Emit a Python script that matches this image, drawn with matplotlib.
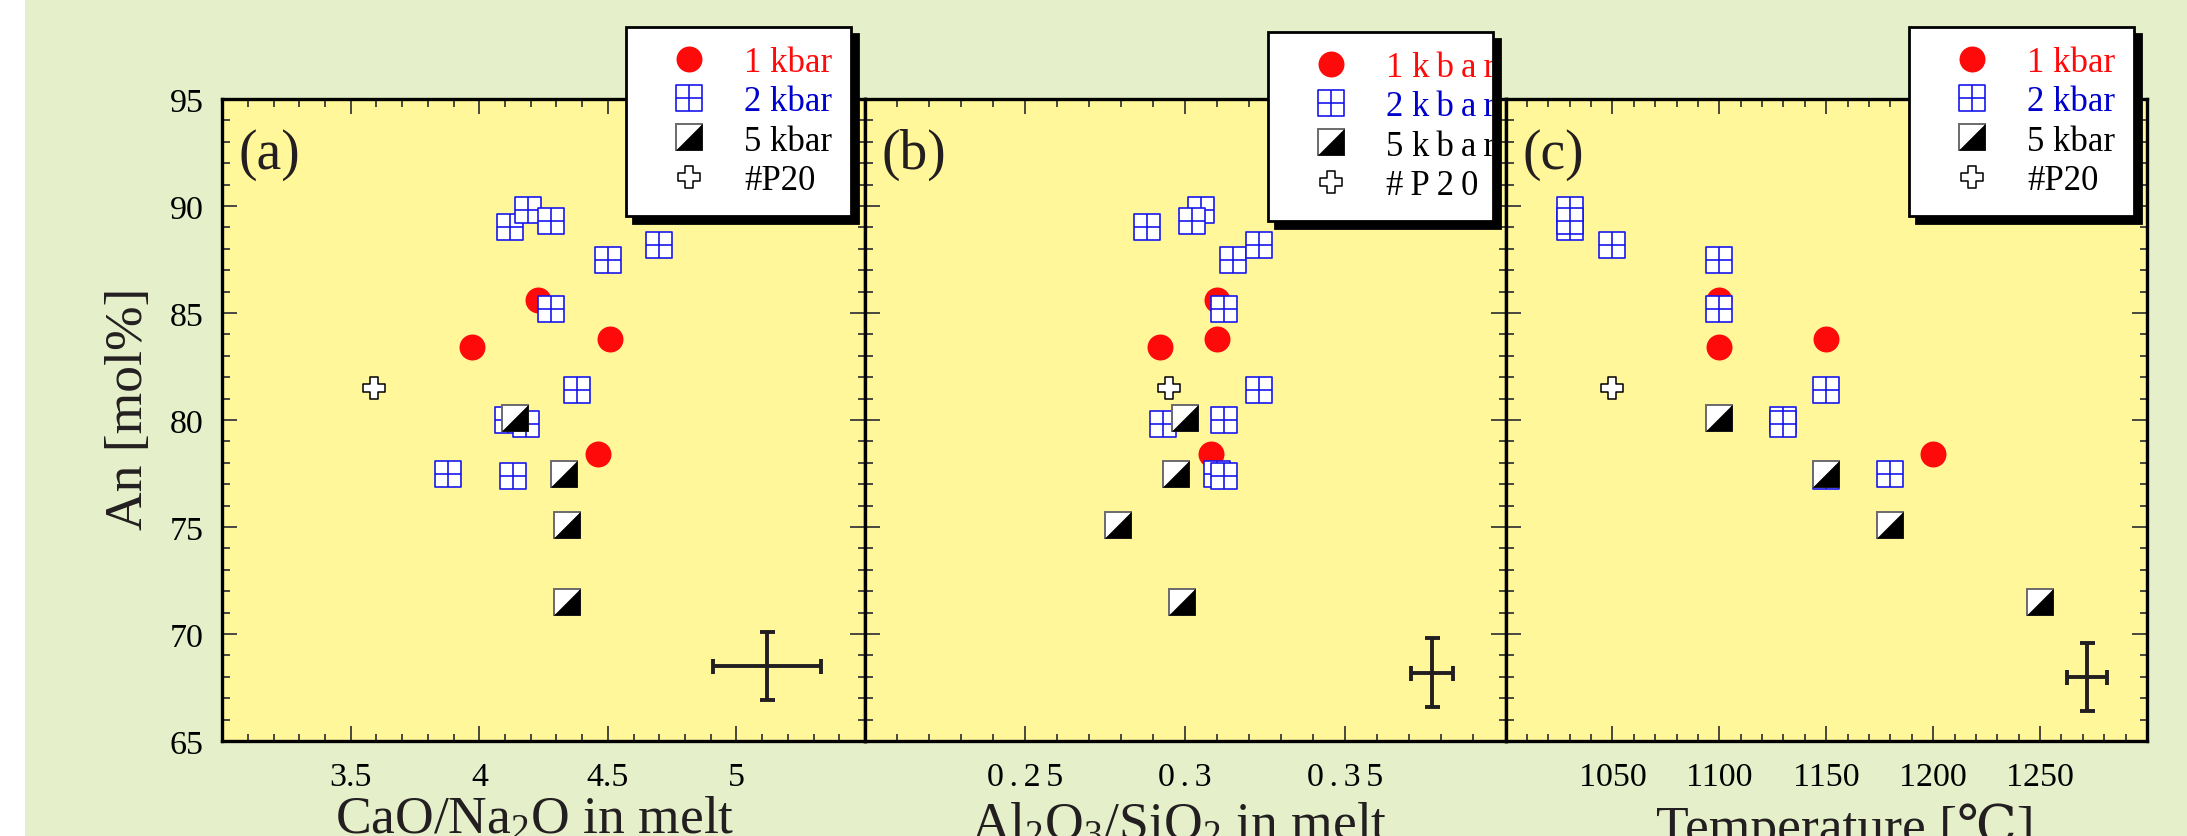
import matplotlib
matplotlib.use("Agg")
import matplotlib.pyplot as plt
from matplotlib.path import Path
from matplotlib.lines import Line2D
from matplotlib.patches import Rectangle
from matplotlib.transforms import Bbox
from matplotlib.ticker import MultipleLocator

plt.rcParams["font.family"] = ["Liberation Serif", "DejaVu Serif", "Noto Sans CJK JP"]
plt.rcParams["mathtext.fontset"] = "custom"
plt.rcParams["mathtext.rm"] = "Liberation Serif"
plt.rcParams["mathtext.it"] = "Liberation Serif:italic"
plt.rcParams["mathtext.default"] = "regular"

# ---- data -------------------------------------------------------------
# Anorthite content of plagioclase [mol%]
an_1kbar = [85.6, 83.4, 83.8, 78.4]
an_2kbar = [89.0, 89.8, 89.3, 87.5, 88.2, 85.2, 81.4, 80.0, 79.8, 77.5, 77.4]
an_5kbar = [80.1, 77.5, 75.1, 71.5]
an_p20 = [81.5]

# CaO/Na2O in melt
cana_1kbar = [4.23, 3.97, 4.51, 4.46]
cana_2kbar = [4.12, 4.19, 4.28, 4.50, 4.70, 4.28, 4.38, 4.11, 4.18, 3.88, 4.13]
cana_5kbar = [4.14, 4.33, 4.34, 4.34]
cana_p20 = [3.59]

# Al2O3/SiO2 in melt
alsi_1kbar = [0.310, 0.292, 0.310, 0.308]
alsi_2kbar = [0.288, 0.305, 0.302, 0.315, 0.323, 0.312, 0.323, 0.312, 0.293, 0.310, 0.312]
alsi_5kbar = [0.300, 0.297, 0.279, 0.299]
alsi_p20 = [0.295]

# Temperature [C]
temp_1kbar = [1100, 1100, 1150, 1200]
temp_2kbar = [1030, 1030, 1030, 1100, 1050, 1100, 1150, 1130, 1130, 1180, 1150]
temp_5kbar = [1100, 1150, 1180, 1250]
temp_p20 = [1050]

# typical analytical uncertainty (one cross per panel)
err_x = [5.12, 0.377, 1272]
err_y = [68.5, 68.2, 68.0]
err_dx = [0.21, 0.0065, 9.5]
err_dy = [1.6, 1.6, 1.6]

panel_tags = ["(a)", "(b)", "(c)"]
x_labels = ["CaO/Na$_2$O in melt", "Al$_2$O$_3$/SiO$_2$ in melt", "Temperature [\u2103]"]
x_limits = [(3.0, 5.5), (0.2, 0.4), (1000, 1300)]
x_ticks = [[3.5, 4.0, 4.5, 5.0], [0.25, 0.30, 0.35], [1050, 1100, 1150, 1200, 1250]]
x_ticklabels = [["3.5", "4", "4.5", "5"],
                ["0\u2006.\u20062\u20065", "0\u2006.\u20063", "0\u2006.\u20063\u20065"],
                ["1050", "1100", "1150", "1200", "1250"]]
x_minor = [0.1, 0.01, 10]
y_ticks = [65, 70, 75, 80, 85, 90, 95]
y_label = "An [mol%]"
legend_labels = ["1 kbar", "2 kbar", "5 kbar", "#P20"]
legend_labels_wide = ["1 k\u2009b\u2009a\u2009r", "2 k\u2009b\u2009a\u2009r",
                      "5 k\u2009b\u2009a\u2009r", "#\u2009P\u20092\u20090"]

# ---- style ------------------------------------------------------------
W, H = 2187, 837
FIG_BG = "#E5F0CA"
AX_BG = "#FFF799"
RED = "#FF0A0A"
BLUE = "#1818EE"
BLUE_TXT = "#0000CC"
EDGE_GRAY = "#6A6A6A"
TICK = "#3A3A3A"
INK = "#231F20"

grid_square = Path(
    [(-1, -1), (1, -1), (1, 1), (-1, 1), (-1, -1), (0, -1), (0, 1), (-1, 0), (1, 0)],
    [Path.MOVETO, Path.LINETO, Path.LINETO, Path.LINETO, Path.CLOSEPOLY,
     Path.MOVETO, Path.LINETO, Path.MOVETO, Path.LINETO])
lower_right = Path([(-1, -1), (1, -1), (1, 1), (-1, -1)],
                   [Path.MOVETO, Path.LINETO, Path.LINETO, Path.CLOSEPOLY])
w = 0.36
cross_outline = Path([(-w, 1), (w, 1), (w, w), (1, w), (1, -w), (w, -w), (w, -1),
                      (-w, -1), (-w, -w), (-1, -w), (-1, w), (-w, w), (-w, 1)], closed=True)

MS = 18.7
st_1 = dict(ls="none", marker="o", ms=MS, mfc=RED, mec=RED, mew=0)
st_2 = dict(ls="none", marker=grid_square, ms=MS, mfc="white", mec=BLUE, mew=1.2)
st_5a = dict(ls="none", marker="s", ms=19, mfc="white", mec=EDGE_GRAY, mew=1.4)
st_5b = dict(ls="none", marker=lower_right, ms=19, mfc="black", mec="black", mew=0.4)
st_p = dict(ls="none", marker=cross_outline, ms=16.5, mfc="white", mec="black", mew=1.1)

fig = plt.figure(figsize=(W / 100, H / 100), dpi=100, facecolor=FIG_BG)
fig.patches.append(Rectangle((0, 0), 25 / W, 1, transform=fig.transFigure,
                             facecolor="white", edgecolor="none", zorder=0))

lefts = [222.2, 865.0, 1505.5]
widths = [642.8, 640.5, 641.5]
bottom, height = 95, 642
axes = [fig.add_axes([l / W, bottom / H, wd / W, height / H]) for l, wd in zip(lefts, widths)]

xs = [(cana_1kbar, cana_2kbar, cana_5kbar, cana_p20),
      (alsi_1kbar, alsi_2kbar, alsi_5kbar, alsi_p20),
      (temp_1kbar, temp_2kbar, temp_5kbar, temp_p20)]
xlab_pos = [(0.486, -0.0857), (0.491, -0.093), (0.529, -0.095)]

for i, ax in enumerate(axes):
    x1, x2, x5, xp = xs[i]
    ax.set_facecolor(AX_BG)
    ax.plot(x1, an_1kbar, zorder=3, **st_1)
    ax.plot(x2, an_2kbar, zorder=4, **st_2)
    ax.plot(x5, an_5kbar, zorder=5, **st_5a)
    ax.plot(x5, an_5kbar, zorder=6, **st_5b)
    ax.plot(xp, an_p20, zorder=7, **st_p)
    ax.errorbar([err_x[i]], [err_y[i]], xerr=[err_dx[i]], yerr=[err_dy[i]], fmt="none",
                ecolor=INK, elinewidth=2.8, capsize=5.4, capthick=2.8, zorder=3)

    ax.set_xlim(*x_limits[i])
    ax.set_ylim(65, 95)
    ax.set_xticks(x_ticks[i], x_ticklabels[i])
    ax.set_yticks(y_ticks)
    ax.xaxis.set_minor_locator(MultipleLocator(x_minor[i]))
    ax.yaxis.set_minor_locator(MultipleLocator(1))
    ax.tick_params(which="both", direction="in", top=True, right=True,
                   color=TICK, width=1.3, labelcolor="black")
    ax.tick_params(which="major", length=10.8, labelsize=24.5)
    ax.tick_params(which="minor", length=5.4)
    ax.tick_params(axis="x", which="major", pad=14.5)
    ax.tick_params(axis="y", which="major", pad=13.5)
    if i > 0:
        ax.tick_params(labelleft=False)
    for s in ax.spines.values():
        s.set_linewidth(2.4)
        s.set_color("black")
        s.set_zorder(8)

    ax.set_xlabel(x_labels[i], fontsize=38.5, color=INK)
    ax.xaxis.set_label_coords(*xlab_pos[i])
    ax.text(0.026, 0.955, panel_tags[i], transform=ax.transAxes, fontsize=40,
            va="top", ha="left", color=INK)

axes[0].set_ylabel(y_label, fontsize=38.5, color=INK)
axes[0].yaxis.set_label_coords(-0.107, 0.519)

handles = [Line2D([], [], **st_1), Line2D([], [], **st_2),
           (Line2D([], [], **st_5a), Line2D([], [], **st_5b)), Line2D([], [], **st_p)]
label_colors = [RED, BLUE_TXT, "black", "black"]

legends = []
for lx, ly in [(626, 28), (1268, 33), (1909, 28)]:
    leg = fig.legend(handles, legend_labels, loc="upper left",
                     bbox_to_anchor=(lx / W, 1 - ly / H), bbox_transform=fig.transFigure,
                     borderaxespad=0, fontsize=25, labelcolor=label_colors,
                     frameon=True, fancybox=False, edgecolor="black", facecolor="white",
                     framealpha=1, borderpad=0.55, labelspacing=0.18, handlelength=2.53,
                     handletextpad=0.32, handleheight=0.7, numpoints=1,
                     shadow={"ox": 5, "oy": -5, "facecolor": "black",
                             "edgecolor": "black", "alpha": 1})
    leg.get_frame().set_linewidth(2.0)
    legends.append(leg)

# middle legend: letter-spaced labels that run into the frame edge
fig.canvas.draw()
renderer = fig.canvas.get_renderer()
mid = legends[1]
fb = mid.get_frame().get_window_extent(renderer)
inner = Bbox.from_extents(fb.x0, fb.y0, fb.x1 - 1.5, fb.y1)
for t, s, c in zip(mid.get_texts(), legend_labels_wide, label_colors):
    bb = t.get_window_extent(renderer)
    t.set_alpha(0)
    ov = fig.text(bb.x0 / W, bb.y0 / H, s, color=c, fontsize=25,
                  ha="left", va="bottom", zorder=6)
    ov.set_clip_box(inner)

fig.savefig("out.png", dpi=100, facecolor=FIG_BG)
